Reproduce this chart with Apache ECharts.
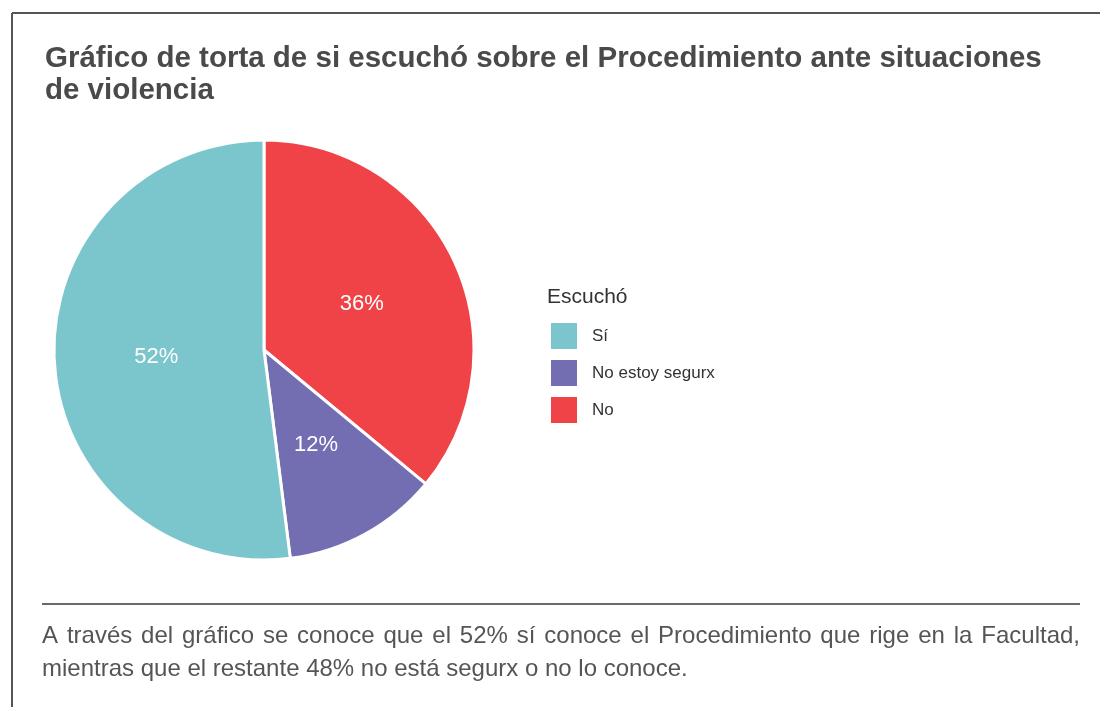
<!DOCTYPE html>
<html>
<head>
<meta charset="utf-8">
<script src="https://cdn.jsdelivr.net/npm/echarts@6/dist/echarts.min.js"></script>
<style>
  html, body { margin: 0; padding: 0; background: #fff; }
  #chart { width: 1100px; height: 707px; }
</style>
</head>
<body>
<div id="chart"></div>
<script>
// datos
var categories = ['No', 'No estoy segurx', 'Sí'];
var values = [36, 12, 52];
var legendOrder = ['Sí', 'No estoy segurx', 'No'];
var colors = { 'Sí': '#7BC6CC', 'No estoy segurx': '#736DB2', 'No': '#EF4348' };

var titleText = 'Gráfico de torta de si escuchó sobre el Procedimiento ante situaciones\nde violencia';
var captionLine1 = 'A través del gráfico se conoce que el 52% sí conoce el Procedimiento que rige en la Facultad,';
var captionLine2 = 'mientras que el restante 48% no está segurx o no lo conoce.';

var FONT = '"Liberation Sans", Arial, sans-serif';
var CAPTION_FONT = '24px ' + FONT;

// primera linea justificada (espaciado entre palabras)
var ctx = document.createElement('canvas').getContext('2d');
ctx.font = CAPTION_FONT;
function justifiedWords(line, x0, x1, y) {
    var words = line.split(' ');
    var widths = words.map(function (w) { return ctx.measureText(w).width; });
    var total = widths.reduce(function (a, b) { return a + b; }, 0);
    var gap = (x1 - x0 - total) / (words.length - 1);
    var x = x0;
    return words.map(function (w, i) {
        var el = { type: 'text', left: x, top: y, silent: true,
            style: { text: w, font: CAPTION_FONT, fill: '#555555' } };
        x += widths[i] + gap;
        return el;
    });
}

var myChart = echarts.init(document.getElementById('chart'));

var graphics = [
    { type: 'line', shape: { x1: 12, y1: 13, x2: 1100, y2: 13 }, style: { stroke: '#555555', lineWidth: 2 } },
    { type: 'line', shape: { x1: 12, y1: 13, x2: 12, y2: 707 }, style: { stroke: '#555555', lineWidth: 2 } },
    { type: 'line', shape: { x1: 42, y1: 604, x2: 1080, y2: 604 }, style: { stroke: '#6a6a6a', lineWidth: 2 } },
    { type: 'text', left: 547, top: 287, style: { text: 'Escuchó', font: '21px ' + FONT, fill: '#333333' } },
    { type: 'text', left: 42, top: 657, silent: true, style: { text: captionLine2, font: CAPTION_FONT, fill: '#555555' } }
].concat(justifiedWords(captionLine1, 42, 1080, 624));

var option = {
    animation: false,
    title: {
        text: titleText,
        left: 40,
        top: 38,
        textStyle: {
            fontFamily: FONT,
            fontSize: 29.5,
            fontWeight: 'bold',
            color: '#4a4a4a',
            lineHeight: 32
        }
    },
    legend: {
        orient: 'vertical',
        left: 549,
        top: 321,
        padding: 0,
        data: legendOrder,
        icon: 'rect',
        itemWidth: 28,
        itemHeight: 28,
        itemGap: 7,
        selectedMode: false,
        textStyle: { fontFamily: FONT, fontSize: 17, color: '#333333', padding: [0, 0, 0, 9] }
    },
    graphic: graphics,
    series: [
        {
            type: 'pie',
            center: [264, 350],
            radius: [0, 210],
            startAngle: 90,
            clockwise: true,
            itemStyle: { borderColor: '#ffffff', borderWidth: 3 },
            label: {
                show: true,
                position: 'inside',
                formatter: '{c}%',
                color: '#ffffff',
                fontFamily: FONT,
                fontSize: 22
            },
            labelLine: { show: false },
            emphasis: { disabled: true },
            data: categories.map(function (c, i) {
                return { name: c, value: values[i], itemStyle: { color: colors[c] } };
            })
        }
    ]
};

myChart.setOption(option);
</script>
</body>
</html>
